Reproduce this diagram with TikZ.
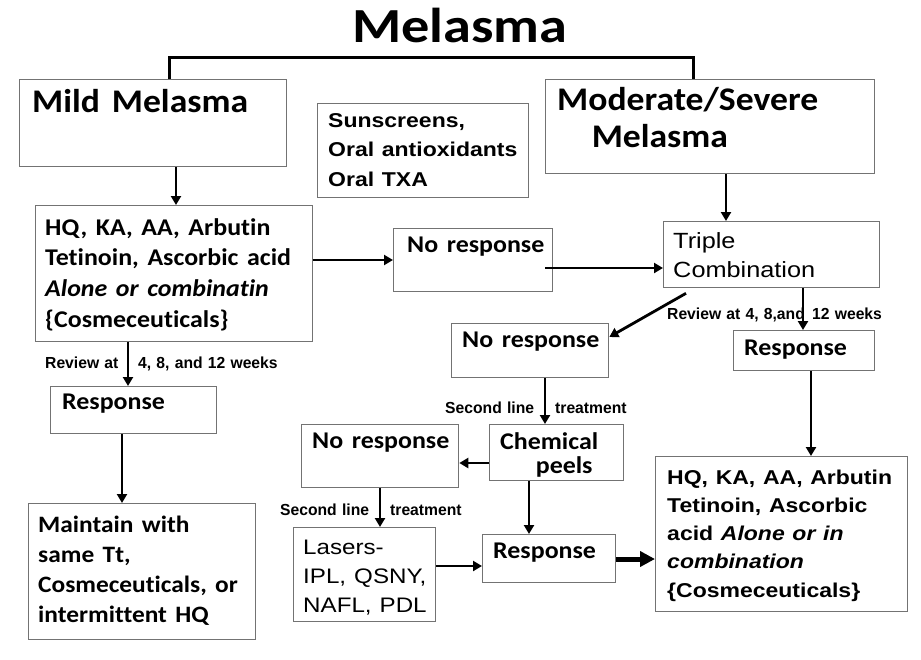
\documentclass[tikz,border=0pt]{standalone}
\usepackage{fontspec}
\setmainfont{Carlito}[WordSpace=0.75, Ligatures=NoCommon]
\newfontfamily\arial{Liberation Sans}
\usetikzlibrary{arrows.meta}
\newcommand{\fs}[2]{\fontsize{#1}{#2}\selectfont}
\tikzset{
  box/.style={draw=black!55, line width=1.3pt, anchor=north west, inner sep=0pt},
  txt/.style={anchor=base west, inner sep=0pt, align=left, text width=10cm, xscale=1.08},
  atxt/.style={txt, xscale=1.15/1.08},
  small/.style={txt, font=\arial\bfseries\fs{16}{16}, xscale=0.98/1.08},
  arr/.style={line width=2.8pt, -{Triangle[length=9pt,width=10pt]}},
  fat/.style={line width=5pt, -{Triangle[length=15pt,width=15pt]}},
  bar/.style={line width=3pt},
}
\begin{document}
\begin{tikzpicture}[x=1pt, y=-1pt]
\fill[white] (0,0) rectangle (921,659);
\useasboundingbox (0,0) rectangle (921,659);

\node[box, minimum width=267pt, minimum height=87pt] (mild) at (19,79) {};
\node[box, minimum width=211pt, minimum height=94pt] (sun) at (317,103) {};
\node[box, minimum width=329pt, minimum height=94pt] (mod) at (545,79) {};
\node[box, minimum width=277pt, minimum height=136pt] (hqL) at (35,205) {};
\node[box, minimum width=159pt, minimum height=63pt] (noresA) at (393,228) {};
\node[box, minimum width=216pt, minimum height=66pt] (triple) at (663,221) {};
\node[box, minimum width=157pt, minimum height=54pt] (noresB) at (451,323) {};
\node[box, minimum width=141pt, minimum height=40pt] (respR) at (733,330) {};
\node[box, minimum width=252pt, minimum height=155pt] (hqR) at (655,456) {};
\node[box, minimum width=134pt, minimum height=56pt] (chem) at (489,424) {};
\node[box, minimum width=157pt, minimum height=63pt] (noresC) at (301,424) {};
\node[box, minimum width=142pt, minimum height=94pt] (lasers) at (293,527) {};
\node[box, minimum width=133pt, minimum height=48pt] (respM) at (482,534) {};
\node[box, minimum width=166pt, minimum height=47pt] (respL) at (50,386) {};
\node[box, minimum width=227pt, minimum height=136pt] (maint) at (28,503) {};

\node[atxt, font=\bfseries\fs{49}{49}] (title) at (352,42) {Melasma};
\node[txt, font=\bfseries\fs{33}{33}] (mildT) at (32,112) {Mild Melasma};
\node[atxt, font=\arial\bfseries\fs{20}{29.5}] (sunT) at (328,127) {Sunscreens,\\Oral antioxidants\\Oral TXA};
\node[txt, font=\bfseries\fs{33}{37}] (modT) at (557,110) {Moderate/Severe\\\hspace*{32pt}Melasma};
\node[txt, font=\bfseries\fs{24}{30.7}] (hqLT) at (45,235) {HQ, KA, AA, Arbutin\\Tetinoin, Ascorbic acid\\\textit{Alone or combinatin}\\\{Cosmeceuticals\}};
\node[txt, font=\bfseries\fs{24}{24}] (noresAT) at (407,252) {No response};
\node[atxt, font=\arial\fs{22}{29}] (tripleT) at (673,248) {Triple\\Combination};
\node[small] (revR1) at (667,319) {Review at 4, 8,and};
\node[small] (revR2) at (812,319) {12 weeks};
\node[txt, font=\bfseries\fs{24}{24}] (noresBT) at (462,347) {No response};
\node[txt, font=\bfseries\fs{24}{24}] (respRT) at (744,355) {Response};
\node[atxt, font=\arial\bfseries\fs{20}{28.3}] (hqRT) at (667,484) {HQ, KA, AA, Arbutin\\Tetinoin, Ascorbic\\acid \textit{Alone or in}\\\textit{combination}\\\{Cosmeceuticals\}};
\node[small] (sec1) at (445,413) {Second line};
\node[small] (trt1) at (555,413) {treatment};
\node[txt, font=\bfseries\fs{24}{24}] (chemT) at (500,449) {Chemical\\\hspace*{33pt}peels};
\node[txt, font=\bfseries\fs{24}{24}] (noresCT) at (312,448) {No response};
\node[small] (sec2) at (280,515) {Second line};
\node[small] (trt2) at (390,515) {treatment};
\node[atxt, font=\arial\fs{21}{29}] (lasT) at (303,554) {Lasers-\\IPL, QSNY,\\NAFL, PDL};
\node[txt, font=\bfseries\fs{24}{24}] (respMT) at (493,558) {Response};
\node[small] (revL1) at (45,368) {Review at};
\node[small] (revL2) at (138,368) {4, 8, and 12 weeks};
\node[txt, font=\bfseries\fs{24}{24}] (respLT) at (62,409) {Response};
\node[txt, font=\bfseries\fs{23.5}{30.3}] (maintT) at (38,532) {Maintain with\\same Tt,\\Cosmeceuticals, or\\intermittent HQ};

\coordinate (split) at (431,57);
\draw[bar] (169,0 |- mild.north) |- (split) -| (693,0 |- mod.north);

\draw[arr] (176,0 |- mild.south) -- (176,0 |- hqL.north);
\draw[arr] (726,0 |- mod.south) -- (726,0 |- triple.north);
\draw[arr] (hqL.east |- 0,260) -- (noresA.west |- 0,260);
\draw[arr] (545,0 |- 0,268) -- (triple.west |- 0,268);
\draw[arr] (803,0 |- triple.south) -- (803,0 |- respR.north);
\draw[arr] ([shift={(23pt,-5pt)}]triple.south west) -- (noresB.east |- 0,337);
\draw[arr] (811,0 |- respR.south) -- (811,0 |- hqR.north);
\draw[arr] (545,0 |- noresB.south) -- (545,0 |- chem.north);
\draw[arr] (chem.west |- 0,463) -- (noresC.east |- 0,463);
\draw[arr] (380,0 |- noresC.south) -- (380,0 |- lasers.north);
\draw[arr] (lasers.east |- 0,566) -- (respM.west |- 0,566);
\draw[arr] (529,0 |- chem.south) -- (529,0 |- respM.north);
\draw[fat] (respM.east |- 0,559) -- (hqR.west |- 0,559);
\draw[arr] (128,0 |- hqL.south) -- (128,0 |- respL.north);
\draw[arr] (122,0 |- respL.south) -- (122,0 |- maint.north);
\end{tikzpicture}
\end{document}
